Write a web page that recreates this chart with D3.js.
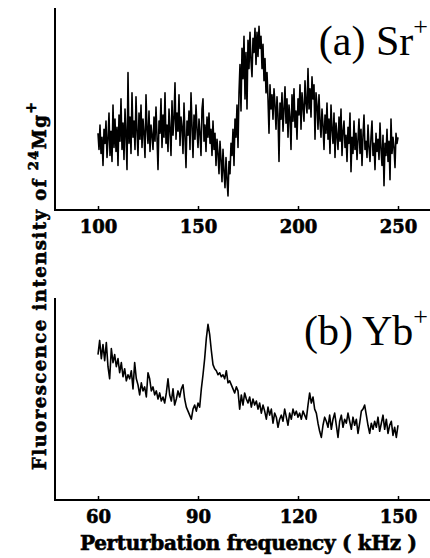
<!DOCTYPE html>
<html>
<head>
<meta charset="utf-8">
<script src="https://cdn.jsdelivr.net/npm/d3@7"></script>
<style>
  body { margin: 0; background: #fff; }
  svg { display: block; }
  .heavy { font-family: "DejaVu Serif", serif; font-weight: bold; fill: #000; stroke: #000; stroke-width: 0.6px; }
</style>
</head>
<body>
<svg width="430" height="558"></svg>
<script>
// (a) Sr+ : 100 - 250 kHz, step 0.5 kHz
const srStart = 100, srStep = 0.5;
const srValues = [
  38, 30, 42, 28, 36, 22, 40, 33, 44, 26,
  35, 48, 27, 39, 24, 52, 31, 45, 29, 41,
  22, 47, 34, 55, 30, 43, 25, 50, 37, 20,
  68, 33, 46, 28, 58, 36, 44, 30, 56, 39,
  27, 48, 35, 52, 31, 45, 38, 26, 57, 40,
  33, 49, 29, 42, 37, 30, 46, 34, 51, 36,
  20, 44, 38, 55, 31, 47, 36, 58, 33, 42,
  29, 50, 40, 27, 54, 37, 45, 63, 35, 48,
  39, 57, 32, 46, 41, 28, 53, 36, 21, 44,
  37, 49, 30, 58, 42, 26, 47, 35, 52, 40,
  31, 45, 38, 27, 50, 55, 34, 42, 29, 46,
  36, 48, 33, 40, 27, 44, 30, 38, 22, 35,
  28, 18, 34, 25, 14, 30, 19, 11, 26, 15,
  7, 24, 18, 33, 27, 40, 22, 45, 36, 52,
  31, 58, 72, 49, 80, 65, 86, 55, 78, 50,
  84, 70, 88, 74, 66, 85, 78, 90, 72, 88,
  76, 91, 80, 86, 70, 82, 64, 75, 58, 68,
  55, 38, 62, 50, 57, 45, 60, 52, 40, 56,
  47, 24, 53, 45, 58, 39, 50, 61, 43, 55,
  36, 52, 46, 30, 57, 44, 60, 41, 49, 35,
  55, 47, 62, 40, 58, 51, 44, 64, 53, 48,
  70, 50, 60, 46, 66, 55, 62, 35, 58, 52,
  40, 57, 44, 36, 50, 42, 30, 47, 38, 53,
  35, 45, 28, 52, 40, 33, 48, 26, 43, 37,
  30, 46, 34, 50, 27, 39, 44, 31, 37, 24,
  41, 33, 48, 19, 36, 28, 44, 30, 38, 25,
  35, 45, 28, 40, 22, 37, 47, 30, 34, 26,
  42, 31, 24, 36, 44, 27, 33, 20, 38, 29,
  35, 25, 43, 30, 22, 37, 12, 33, 27, 40,
  24, 34, 15, 45, 28, 36, 31, 21, 38, 33,
  36
];
const srTicks = [100, 150, 200, 250];

// (b) Yb+ : 60 - 150 kHz, step 0.5 kHz
const ybStart = 60, ybStep = 0.5;
const ybValues = [
  72, 79, 70, 77, 69, 78, 66, 60, 75, 68,
  72, 66, 70, 63, 68, 61, 65, 59, 62, 60,
  64, 55, 68, 60, 57, 52, 58, 54, 56, 51,
  63, 60, 54, 56, 52, 54, 50, 53, 49, 51,
  48, 53, 60, 52, 49, 55, 47, 50, 54, 51,
  55, 57, 50, 46, 44, 42, 40, 45, 47, 44,
  48, 46, 55, 62, 70, 80, 87, 82, 74, 67,
  65, 64, 62, 63, 61, 62, 60, 64, 58, 59,
  57, 55, 53, 56, 54, 45, 52, 47, 53, 50,
  48, 51, 46, 50, 47, 49, 45, 48, 43, 47,
  44, 40, 46, 42, 45, 38, 43, 41, 36, 40,
  42, 39, 45, 41, 37, 43, 40, 45, 42, 44,
  41, 43, 40, 44, 42, 40, 47, 53, 48, 51,
  45, 43, 38, 34, 31, 37, 41, 39, 36, 42,
  35, 40, 43, 37, 31, 39, 42, 36, 40, 38,
  43, 39, 35, 41, 37, 40, 33, 38, 44, 45,
  47, 42, 37, 33, 38, 35, 39, 36, 41, 34,
  38, 42, 35, 40, 33, 37, 39, 32, 36, 31,
  37
];
const ybTicks = [60, 90, 120, 150];

const svg = d3.select('svg');
const width = +svg.attr('width');

const axisX0 = 55;

function panel(cfg) {
  const x = d3.scaleLinear().domain(cfg.domain).range([98, 398]);
  const y = d3.scaleLinear().domain([0, 100]).range([cfg.bottom, cfg.top]);

  const g = svg.append('g');

  // left and bottom frame lines
  g.append('line')
    .attr('x1', axisX0).attr('x2', axisX0)
    .attr('y1', cfg.top).attr('y2', cfg.bottom)
    .attr('stroke', '#000').attr('stroke-width', 2);
  g.append('line')
    .attr('x1', axisX0 - 1).attr('x2', width)
    .attr('y1', cfg.bottom).attr('y2', cfg.bottom)
    .attr('stroke', '#000').attr('stroke-width', 2);

  const axis = g.append('g')
    .attr('transform', `translate(0, ${cfg.bottom})`)
    .call(d3.axisBottom(x).tickValues(cfg.ticks).tickSize(-4).tickSizeOuter(0));
  axis.select('.domain').remove();
  axis.attr('font-family', null).attr('font-size', null);
  axis.selectAll('.tick line').attr('stroke-width', 1.5);
  axis.selectAll('.tick text')
    .attr('class', 'heavy')
    .attr('y', 23)
    .attr('dy', null)
    .style('font-size', '18px');

  const data = cfg.values.map((v, i) => ({ f: cfg.start + i * cfg.step, v }));
  g.append('path')
    .datum(data)
    .attr('fill', 'none')
    .attr('stroke', '#000')
    .attr('stroke-width', cfg.lw)
    .attr('stroke-linejoin', 'round')
    .attr('d', d3.line().x(d => x(d.f)).y(d => y(d.v)));

  const lab = g.append('text')
    .attr('x', 428)
    .attr('y', cfg.labelY)
    .attr('text-anchor', 'end')
    .style('font-family', '"Liberation Serif", "Times New Roman", serif')
    .style('font-size', '42px');
  lab.append('tspan').text(cfg.label);
  lab.append('tspan').attr('dy', -20).style('font-size', '26px').text('+');
}

panel({ domain: [100, 250], top: 8, bottom: 210, ticks: srTicks,
        values: srValues, start: srStart, step: srStep, lw: 1.6,
        label: '(a) Sr', labelY: 55 });
panel({ domain: [60, 150], top: 298, bottom: 500, ticks: ybTicks,
        values: ybValues, start: ybStart, step: ybStep, lw: 1.6,
        label: '(b) Yb', labelY: 345 });

// x title
svg.append('text')
  .attr('class', 'heavy')
  .attr('x', 80)
  .attr('y', 550)
  .attr('textLength', 337)
  .attr('lengthAdjust', 'spacing')
  .style('font-size', '20px')
  .text('Perturbation frequency ( kHz )');

// y title, rotated
const yt = svg.append('text')
  .attr('class', 'heavy')
  .attr('transform', 'translate(46, 470) rotate(-90)')
  .style('font-size', '18px')
  .style('letter-spacing', '1.5px');
yt.append('tspan').text('Fluorescence  intensity of ');
yt.append('tspan').attr('dy', -8).style('font-size', '13px').text('24');
yt.append('tspan').attr('dy', 8).text('Mg');
yt.append('tspan').attr('dy', -10).style('font-size', '14px').text('+');
</script>
</body>
</html>
